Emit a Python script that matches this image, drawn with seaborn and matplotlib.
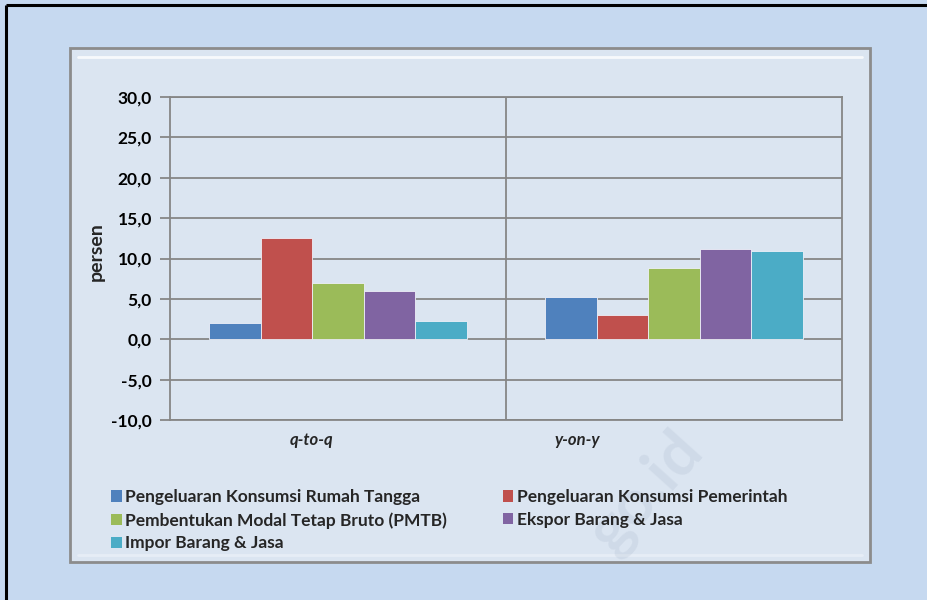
import pandas as pd
import numpy as np
import matplotlib
matplotlib.use('Agg')
import matplotlib.pyplot as plt
import matplotlib.transforms as mtransforms
from matplotlib.patches import Rectangle
from matplotlib.lines import Line2D
from matplotlib.ticker import FuncFormatter
import seaborn as sns

# data
periode = ['q-to-q', 'y-on-y']
komponen = ['Pengeluaran Konsumsi Rumah Tangga',
            'Pengeluaran Konsumsi Pemerintah',
            'Pembentukan Modal Tetap Bruto (PMTB)',
            'Ekspor Barang & Jasa',
            'Impor Barang & Jasa']
nilai_qtoq = [2.0, 12.6, 7.0, 6.0, 2.2]
nilai_yony = [5.2, 3.0, 8.8, 11.2, 10.9]
warna = ['#4f81bd', '#c0504d', '#9bbb59', '#8064a2', '#4bacc6']

df = pd.DataFrame({
    'periode': [periode[0]] * len(komponen) + [periode[1]] * len(komponen),
    'komponen': komponen + komponen,
    'persen': nilai_qtoq + nilai_yony,
})

sns.set_theme(style='white')
plt.rcParams['font.family'] = ['Lato', 'DejaVu Sans']

W, H = 928, 600
fig = plt.figure(figsize=(W / 100, H / 100), dpi=100)
fig.patch.set_facecolor('#c6d9f0')

def px(x0, y0, x1, y1):
    # rectangle in pixels (top-left origin) -> figure fraction
    return [x0 / W, 1 - y1 / H, (x1 - x0) / W, (y1 - y0) / H]

# panel background
panel = Rectangle((70 / W, 1 - 562 / H), 800 / W, 514 / H, transform=fig.transFigure,
                  facecolor='#dbe5f1', edgecolor='#8c8c8c', linewidth=2, zorder=0)
fig.patches.append(panel)
fig.lines.append(Line2D([78 / W, 862 / W], [1 - 57 / H, 1 - 57 / H], transform=fig.transFigure,
                        color='white', alpha=0.8, linewidth=2))
fig.lines.append(Line2D([78 / W, 862 / W], [1 - 555 / H, 1 - 555 / H], transform=fig.transFigure,
                        color='#e8eef7', alpha=0.9, linewidth=2))
# black border of the image (left and top only)
fig.lines.append(Line2D([6 / W, 6 / W], [0, 1 - 5 / H], transform=fig.transFigure, color='black',
                        linewidth=2.2, solid_capstyle='butt'))
fig.lines.append(Line2D([6 / W, 1.01], [1 - 5 / H, 1 - 5 / H], transform=fig.transFigure, color='black',
                        linewidth=2.2, solid_capstyle='butt'))

# watermark
fig.text(705 / W, 1 - 452 / H, 'go.id', rotation=48, rotation_mode='anchor',
         ha='right', va='baseline', fontsize=46, fontweight='bold', color='#9aaac0', alpha=0.18)

ax = fig.add_axes(px(170, 97, 842, 420))
ax.set_zorder(3)
ax.set_facecolor('none')

sns.barplot(data=df, x='periode', y='persen', hue='komponen', hue_order=komponen,
            order=periode, palette=warna, width=0.768, gap=0, saturation=1,
            edgecolor='#eef0f8', linewidth=0.6, ax=ax, zorder=3)

grid_c = '#868686'
ax.set_ylim(-10, 30)
ax.set_xlim(-0.5, 1.5)
ax.set_yticks(np.arange(-10, 31, 5))
ax.yaxis.set_major_formatter(FuncFormatter(lambda v, p: f'{v:.1f}'.replace('.', ',')))
ax.grid(axis='y', color=grid_c, linewidth=1.3, zorder=1)
ax.axvline(0.5, color=grid_c, linewidth=1.3, zorder=1)
for s in ax.spines.values():
    s.set_color(grid_c)
    s.set_linewidth(1.3)
ax.tick_params(axis='y', which='major', left=True, length=7, width=1.3, color=grid_c,
               pad=6, labelsize=12.5, labelcolor='black')
ax.tick_params(axis='x', length=0, pad=9, labelsize=12)
for t in ax.get_yticklabels():
    t.set_fontweight('bold')

# category labels (sit left of group centre, as in the source)
label_shift = [-26, -97]
for t, dx in zip(ax.get_xticklabels(), label_shift):
    t.set_fontweight('bold')
    t.set_fontstyle('italic')
    t.set_transform(t.get_transform() + mtransforms.ScaledTranslation(dx / 100, 0, fig.dpi_scale_trans))

ax.set_xlabel('')
ax.set_ylabel('persen', fontsize=14, fontweight='bold')
ax.yaxis.set_label_coords((105 - 170) / 672, (420 - 252) / 323)

handles, labels = ax.get_legend_handles_labels()
ax.get_legend().remove()
urutan = [0, 2, 4, 1, 3]
leg = fig.legend([handles[i] for i in urutan], [labels[i] for i in urutan], ncol=2,
                 loc='upper left', bbox_to_anchor=(111 / W, 1 - 489 / H),
                 frameon=False, fontsize=12.5, handlelength=0.62, handleheight=0.62,
                 handletextpad=0.2, labelspacing=0.4, columnspacing=3.2,
                 borderpad=0, borderaxespad=0)
for t in leg.get_texts():
    t.set_fontweight('bold')
for h in leg.legend_handles:
    h.set_edgecolor('none')

fig.savefig('out.png', dpi=100, facecolor=fig.get_facecolor())
